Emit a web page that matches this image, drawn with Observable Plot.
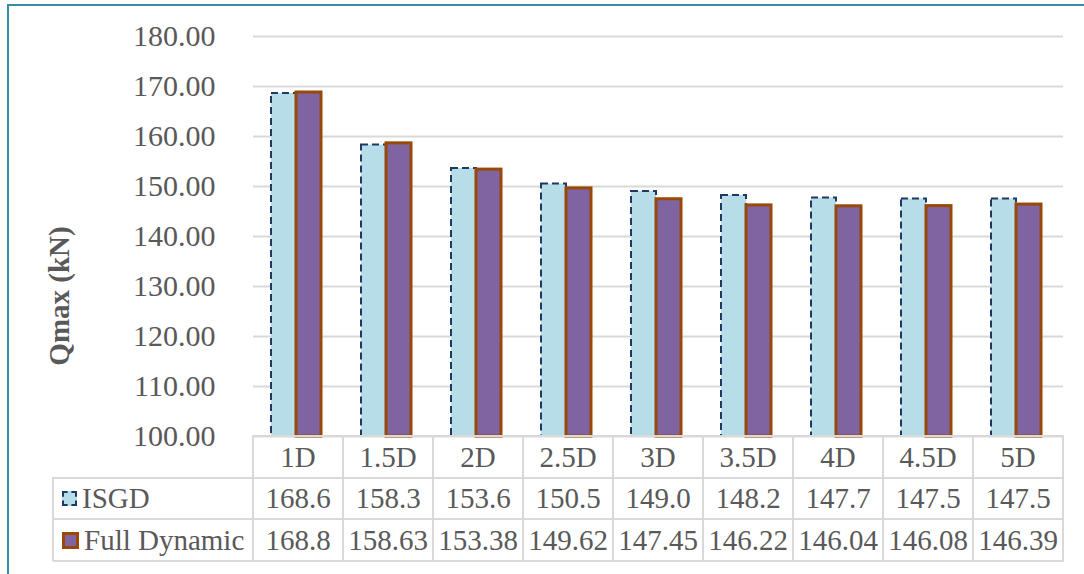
<!DOCTYPE html>
<html>
<head>
<meta charset="utf-8">
<script src="https://cdn.jsdelivr.net/npm/d3@7"></script>
<script src="https://cdn.jsdelivr.net/npm/@observablehq/plot@0.6"></script>
<style>
  html, body { margin: 0; padding: 0; background: #fff; }
  #wrap { position: relative; width: 1084px; height: 574px; overflow: hidden; background: #fff; font-family: "Liberation Serif", Tinos, "Times New Roman", "DejaVu Serif", serif; color: #595959; }
  #frame { position: absolute; left: 7px; top: 4px; width: 1100px; height: 600px; border-top: 2px solid #3a8ca3; border-left: 2px solid #3a8ca3; box-sizing: border-box; }
  #chart { position: absolute; left: 0; top: 0; }
  .hl, .vl { position: absolute; background: #d9d9d9; }
  .cell { position: absolute; display: flex; align-items: center; justify-content: center; font-size: 29px; color: #595959; white-space: nowrap; }
  .lab { justify-content: flex-start; }
  .key { display: inline-block; width: 11px; height: 11px; margin-left: 9px; margin-right: 5px; }
  #ytitle { position: absolute; left: 59px; top: 296px; transform: translate(-50%, -50%) rotate(-90deg); font-weight: bold; font-size: 29px; color: #595959; white-space: nowrap; }
</style>
</head>
<body>
<div id="wrap">
  <div id="frame"></div>
  <div id="chart"></div>
  <div id="ytitle">Qmax (kN)</div>
</div>
<script>
const categories = ["1D", "1.5D", "2D", "2.5D", "3D", "3.5D", "4D", "4.5D", "5D"];
const seriesNames = ["ISGD", "Full Dynamic"];
const isgdValues = [168.6, 158.3, 153.6, 150.5, 149.0, 148.2, 147.7, 147.5, 147.5];
const fullDynamicValues = [168.8, 158.63, 153.38, 149.62, 147.45, 146.22, 146.04, 146.08, 146.39];
const isgdLabels = ["168.6", "158.3", "153.6", "150.5", "149.0", "148.2", "147.7", "147.5", "147.5"];
const fullDynamicLabels = ["168.8", "158.63", "153.38", "149.62", "147.45", "146.22", "146.04", "146.08", "146.39"];
const yTicks = [100, 110, 120, 130, 140, 150, 160, 170, 180];

const FONT = "'Liberation Serif', Tinos, 'Times New Roman', 'DejaVu Serif', serif";

const styles = {
  "ISGD": { fill: "#b7dde8", stroke: "#1f3864", strokeWidth: 2, dash: "7,4" },
  "Full Dynamic": { fill: "#8064a2", stroke: "#984807", strokeWidth: 3, dash: null }
};

const data = [];
categories.forEach((c, i) => {
  data.push({ cat: c, series: "ISGD", value: isgdValues[i] });
  data.push({ cat: c, series: "Full Dynamic", value: fullDynamicValues[i] });
});

const chart = Plot.plot({
  width: 1084,
  height: 437,
  marginLeft: 253,
  marginRight: 21,
  marginTop: 36,
  marginBottom: 1,
  style: { fontFamily: FONT, color: "#595959", background: "transparent", overflow: "visible" },
  fx: { domain: categories, padding: 0, axis: null, label: null },
  x: { domain: seriesNames, paddingInner: 0, paddingOuter: 0.8, align: 0.45, axis: null, label: null },
  y: { domain: [100, 180], axis: null, label: null },
  marks: [
    Plot.ruleY(yTicks, { stroke: "#d9d9d9", strokeWidth: 2 }),
    Plot.axisY(yTicks, { tickFormat: d3.format(".2f"), tickSize: 0, tickPadding: 38, fontSize: 30, fill: "#595959", label: null }),
    Plot.barY(data.filter(d => d.series === "ISGD"), {
      fx: "cat", x: "series", y1: () => 100, y2: "value",
      fill: styles["ISGD"].fill, stroke: styles["ISGD"].stroke,
      strokeWidth: styles["ISGD"].strokeWidth, strokeDasharray: styles["ISGD"].dash
    }),
    Plot.barY(data.filter(d => d.series === "Full Dynamic"), {
      fx: "cat", x: "series", y1: () => 100, y2: "value",
      fill: styles["Full Dynamic"].fill, stroke: styles["Full Dynamic"].stroke,
      strokeWidth: styles["Full Dynamic"].strokeWidth
    })
  ]
});
document.getElementById("chart").appendChild(chart);

// data table below the chart, aligned with the fx scale
const wrap = document.getElementById("wrap");
const fx = chart.scale("fx");
const bw = fx.bandwidth;
const colLeft = categories.map(c => fx.apply(c));
const tableLeft = 53;
const plotLeft = colLeft[0];
const plotRight = colLeft[colLeft.length - 1] + bw;
const rowTops = [436, 478, 519];
const rowBottom = 561;
const rowH = [42, 41, 42];

function line(cls, x, y, w, h) {
  const d = document.createElement("div");
  d.className = cls;
  d.style.left = x + "px"; d.style.top = y + "px";
  d.style.width = w + "px"; d.style.height = h + "px";
  wrap.appendChild(d);
}
function cell(text, x, y, w, h, extraCls) {
  const d = document.createElement("div");
  d.className = "cell" + (extraCls ? " " + extraCls : "");
  d.style.left = x + "px"; d.style.top = y + "px";
  d.style.width = w + "px"; d.style.height = h + "px";
  if (typeof text === "string") d.textContent = text; else d.appendChild(text);
  wrap.appendChild(d);
  return d;
}

categories.forEach((c, i) => cell(c, colLeft[i], rowTops[0], bw, rowH[0]));
const rows = [
  { name: "ISGD", labels: isgdLabels },
  { name: "Full Dynamic", labels: fullDynamicLabels }
];
rows.forEach((r, ri) => {
  const top = rowTops[ri + 1];
  const h = rowH[ri + 1];
  const frag = document.createElement("span");
  frag.style.display = "flex"; frag.style.alignItems = "center";
  const key = document.createElement("span");
  key.className = "key";
  const st = styles[r.name];
  key.style.background = st.fill;
  key.style.border = (r.name === "ISGD" ? "2px dashed " : "3px solid ") + st.stroke;
  frag.appendChild(key);
  const t = document.createElement("span");
  t.textContent = r.name;
  frag.appendChild(t);
  cell(frag, tableLeft, top, plotLeft - tableLeft, h, "lab");
  r.labels.forEach((v, i) => cell(v, colLeft[i], top, bw, h));
});

line("hl", plotLeft, rowTops[0] - 1, plotRight - plotLeft + 1, 2);
line("hl", tableLeft, rowTops[1] - 1, plotRight - tableLeft + 1, 2);
line("hl", tableLeft, rowTops[2] - 1, plotRight - tableLeft + 1, 2);
line("hl", tableLeft, rowBottom - 1, plotRight - tableLeft + 1, 2);
line("vl", tableLeft - 1, rowTops[1] - 1, 2, rowBottom - rowTops[1] + 1);
colLeft.forEach(x => line("vl", x - 1, rowTops[0] - 1, 2, rowBottom - rowTops[0] + 1));
line("vl", plotRight - 1, rowTops[0] - 1, 2, rowBottom - rowTops[0] + 1);
</script>
</body>
</html>
